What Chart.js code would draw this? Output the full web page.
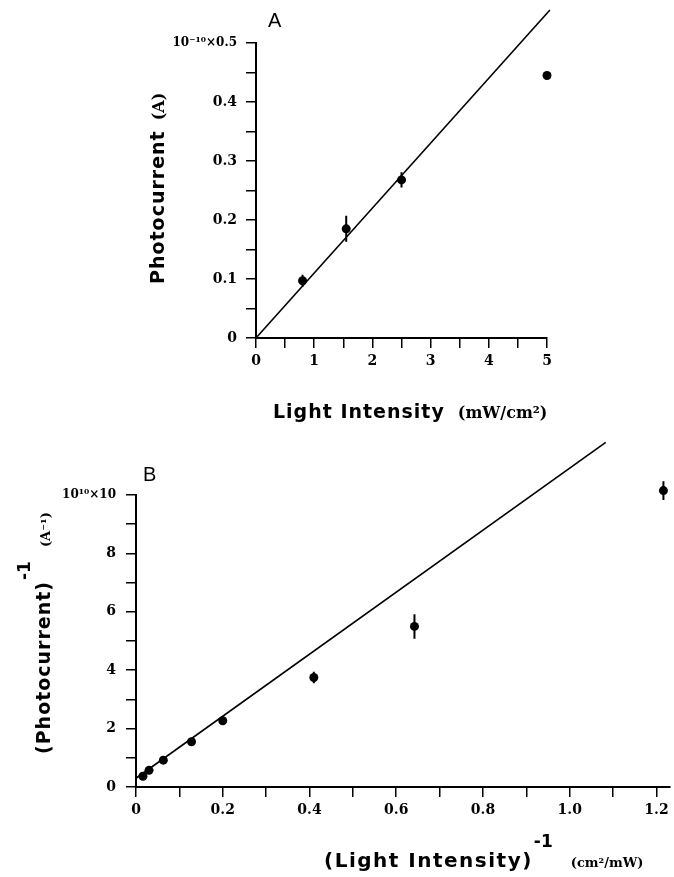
<!DOCTYPE html>
<html>
<head>
<meta charset="utf-8">
<script src="https://cdn.jsdelivr.net/npm/chart.js@4.4.0/dist/chart.umd.min.js"></script>
<style>
body{margin:0;background:#fff}
#wrap{position:relative;width:674px;height:877px;overflow:hidden}
canvas{position:absolute;left:0}
#cA{top:0}
#cB{top:440px}
.t{position:absolute;white-space:nowrap;line-height:1;color:#000;font-family:'DejaVu Sans',sans-serif;font-size:19px}
.sans{font-family:'DejaVu Sans',sans-serif;font-weight:bold;letter-spacing:1px}
.unit{font-family:'DejaVu Serif',serif;font-weight:bold}
.pan{font-family:'Liberation Sans',Arial,sans-serif;font-size:20px}
.rot{transform-origin:0 0;transform:rotate(-90deg)}
.up{position:relative;font-family:'DejaVu Sans',sans-serif;font-weight:bold;font-size:17px;top:-20px;margin-left:1px}
</style>
</head>
<body>
<div id="wrap">
  <canvas id="cA" width="674" height="440"></canvas>
  <canvas id="cB" width="674" height="437"></canvas>

  <div class="t pan" style="left:268px;top:10px">A</div>
  <div class="t rot" style="left:148px;top:284px"><span class="sans">Photocurrent</span><span class="unit" style="font-size:16px;margin-left:10px">(A)</span></div>
  <div class="t" style="left:273px;top:402px"><span class="sans">Light Intensity</span><span class="unit" style="font-size:16px;margin-left:13px">(mW/cm²)</span></div>

  <div class="t pan" style="left:143px;top:464px">B</div>
  <div class="t rot" style="left:34px;top:754px"><span class="sans">(Photocurrent)</span><span class="up">-1</span><span class="unit" style="font-size:13px;margin-left:14px">(A⁻¹)</span></div>
  <div class="t" style="left:324px;top:850px;font-size:20px"><span class="sans" style="letter-spacing:1.5px">(Light Intensity)</span><span class="up">-1</span><span class="unit" style="font-size:13px;margin-left:18px">(cm²/mW)</span></div>
</div>

<script>
// panel A : photocurrent (1e-10 A) vs light intensity (mW/cm2)
const aIntensity = [0.8, 1.55, 2.5, 5.0];
const aCurrent   = [0.097, 0.185, 0.268, 0.445];
const aErr       = [0.010, 0.022, 0.013, 0];
const aFitX = [0, 5.05];
const aFitY = [0, 0.556];
const aXTicks  = [0, 0.5, 1, 1.5, 2, 2.5, 3, 3.5, 4, 4.5, 5];
const aXLabels = ['0','','1','','2','','3','','4','','5'];
const aYTicks  = [0, 0.05, 0.1, 0.15, 0.2, 0.25, 0.3, 0.35, 0.4, 0.45, 0.5];
const aYLabels = ['0','','0.1','','0.2','','0.3','','0.4','','10⁻¹⁰×0.5'];

// panel B : reciprocal plot, (photocurrent)^-1 (1e10 A^-1) vs (intensity)^-1
const bInvIntensity = [0.016, 0.03, 0.063, 0.128, 0.2, 0.41, 0.642, 1.216];
const bInvCurrent   = [0.37, 0.57, 0.92, 1.55, 2.27, 3.75, 5.5, 10.15];
const bErr          = [0, 0, 0, 0, 0.1, 0.2, 0.42, 0.32];
const bFitX = [0, 1.083];
const bFitY = [0.3, 11.8];
const bXTicks  = [0, 0.1, 0.2, 0.3, 0.4, 0.5, 0.6, 0.7, 0.8, 0.9, 1.0, 1.1, 1.2];
const bXLabels = ['0','','0.2','','0.4','','0.6','','0.8','','1.0','','1.2'];
const bYTicks  = [0, 1, 2, 3, 4, 5, 6, 7, 8, 9, 10];
const bYLabels = ['0','','2','','4','','6','','8','','10¹⁰×10'];

const pts  = (xs, ys) => xs.map((x,i)=>({x, y: ys[i]}));
const bars = (xs, ys, es) => xs.flatMap((x,i)=> es[i] ? [{x, y: ys[i]-es[i]}, {x, y: ys[i]+es[i]}, {x, y: null}] : []);

function axis(min, max, vals, labels, fit, pad){
  return {
    type:'linear', min, max,
    afterBuildTicks: s => { s.ticks = vals.map(v=>({value:v})); },
    afterFit: fit,
    grid:{drawOnChartArea:false, color:'#000', lineWidth:1.5, tickLength:10},
    border:{color:'#000', width:2},
    ticks:{
      color:'#000', autoSkip:false, maxRotation:0, padding:pad,
      font: ctx => ({family:"'DejaVu Serif', serif", weight:'bold', size: (labels[ctx.index]||'').includes('×') ? 12 : 14}),
      callback:(v,i)=>labels[i]
    }
  };
}

function makeChart(id, fitX, fitY, xs, ys, es, xAxis, yAxis, padding){
  return new Chart(document.getElementById(id), {
    type:'scatter',
    data:{datasets:[
      {data: pts(fitX, fitY), showLine:true, borderColor:'#000', borderWidth:1.6, pointRadius:0, clip:false},
      {data: bars(xs, ys, es), showLine:true, spanGaps:false, borderColor:'#000', borderWidth:2, pointRadius:0, clip:false},
      {data: pts(xs, ys), pointRadius:4.5, backgroundColor:'#000', borderColor:'#000', borderWidth:0, clip:false}
    ]},
    options:{
      responsive:false, animation:false, devicePixelRatio:1,
      layout:{padding},
      plugins:{legend:{display:false}, tooltip:{enabled:false}},
      scales:{x: xAxis, y: yAxis}
    }
  });
}

makeChart('cA', aFitX, aFitY, aIntensity, aCurrent, aErr,
  axis(0, 5, aXTicks, aXLabels, s=>{ s.height = 102; }, 5),
  axis(0, 0.5, aYTicks, aYLabels, s=>{ s.width = 256; }, 9),
  {top:43, right:127, left:0, bottom:0});

makeChart('cB', bFitX, bFitY, bInvIntensity, bInvCurrent, bErr,
  axis(0, 1.23, bXTicks, bXLabels, s=>{ s.height = 90; }, 5),
  axis(0, 10, bYTicks, bYLabels, s=>{ s.width = 136; }, 10),
  {top:55, right:3, left:0, bottom:0});
</script>
</body>
</html>
